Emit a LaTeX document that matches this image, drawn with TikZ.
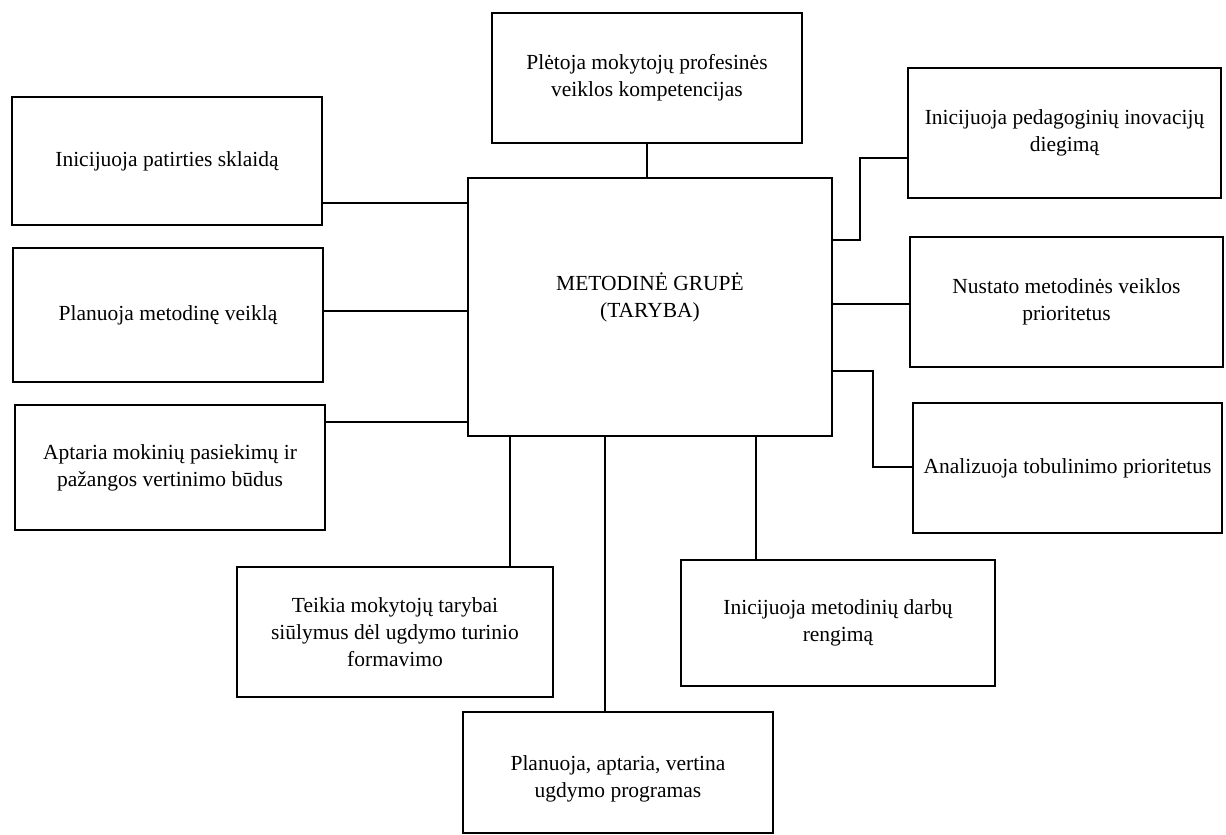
\documentclass[tikz,border=0pt]{standalone}
\usepackage{fontspec}
\setmainfont{Liberation Serif}
\begin{document}
\begin{tikzpicture}[x=1pt,y=-1pt,
  box/.style={draw, line width=1.6pt, rectangle, align=center, inner sep=0pt,
    font=\fontsize{21.5}{27}\selectfont},
  lbl/.style={align=center, inner sep=0pt, font=\fontsize{21.5}{27}\selectfont},
  link/.style={line width=1.5pt}]
\useasboundingbox (0,0) rectangle (1226,835);
\fill[white] (0,0) rectangle (1226,835);

% boxes
\node[box, minimum width=310pt, minimum height=130pt] (top) at (647,78) {Plėtoja mokytojų profesinės\\veiklos kompetencijas};
\node[box, minimum width=364pt, minimum height=258pt] (center) at (650,307) {};
\node[lbl] (ctext) at (650,297) {METODINĖ GRUPĖ\\(TARYBA)};

\node[box, minimum width=310pt, minimum height=128pt] (L1) at (167,161) {Inicijuoja patirties sklaidą};
\node[box, minimum width=310pt, minimum height=134pt] (L2) at (168,315) {Planuoja metodinę veiklą};
\node[box, minimum width=310pt, minimum height=125pt] (L3) at (170,467.5) {Aptaria mokinių pasiekimų ir\\pažangos vertinimo būdus};

\node[box, minimum width=313pt, minimum height=130pt] (R1) at (1064.5,133) {Inicijuoja pedagoginių inovacijų\\diegimą};
\node[box, minimum width=313pt, minimum height=130pt] (R2) at (1066.5,302) {Nustato metodinės veiklos\\prioritetus};
\node[box, minimum width=309pt, minimum height=130pt] (R3) at (1067.5,468) {Analizuoja tobulinimo prioritetus};

\node[box, minimum width=316pt, minimum height=130pt] (BL) at (395,632) {Teikia mokytojų tarybai\\siūlymus dėl ugdymo turinio\\formavimo};
\node[box, minimum width=314pt, minimum height=126pt] (BR) at (838,623) {Inicijuoja metodinių darbų\\rengimą};
\node[box, minimum width=310pt, minimum height=121pt] (B) at (618,772.5) {};
\node[lbl] (btext) at (618,779) {Planuoja, aptaria, vertina\\ugdymo programas};

% connector helper coordinates
\coordinate (yL1) at (0,203);
\coordinate (yL2) at (0,311);
\coordinate (yL3) at (0,422);
\coordinate (yR1) at (0,240);
\coordinate (kR1) at (860,158);
\coordinate (yR2) at (0,304);
\coordinate (yR3) at (0,371);
\coordinate (kR3) at (873,467);
\coordinate (xBL) at (510,0);
\coordinate (xB) at (605,0);
\coordinate (xBR) at (756,0);

% connectors
\draw[link] (top.south) -- (top.south |- center.north);
\draw[link] (L1.east |- yL1) -- (center.west |- yL1);
\draw[link] (L2.east |- yL2) -- (center.west |- yL2);
\draw[link] (L3.east |- yL3) -- (center.west |- yL3);
\draw[link] (center.east |- yR1) -| (kR1) -- (kR1 -| R1.west);
\draw[link] (center.east |- yR2) -- (R2.west |- yR2);
\draw[link] (center.east |- yR3) -| (kR3) -- (kR3 -| R3.west);
\draw[link] (center.south -| xBL) -- (BL.north -| xBL);
\draw[link] (center.south -| xB) -- (B.north -| xB);
\draw[link] (center.south -| xBR) -- (BR.north -| xBR);
\end{tikzpicture}
\end{document}
